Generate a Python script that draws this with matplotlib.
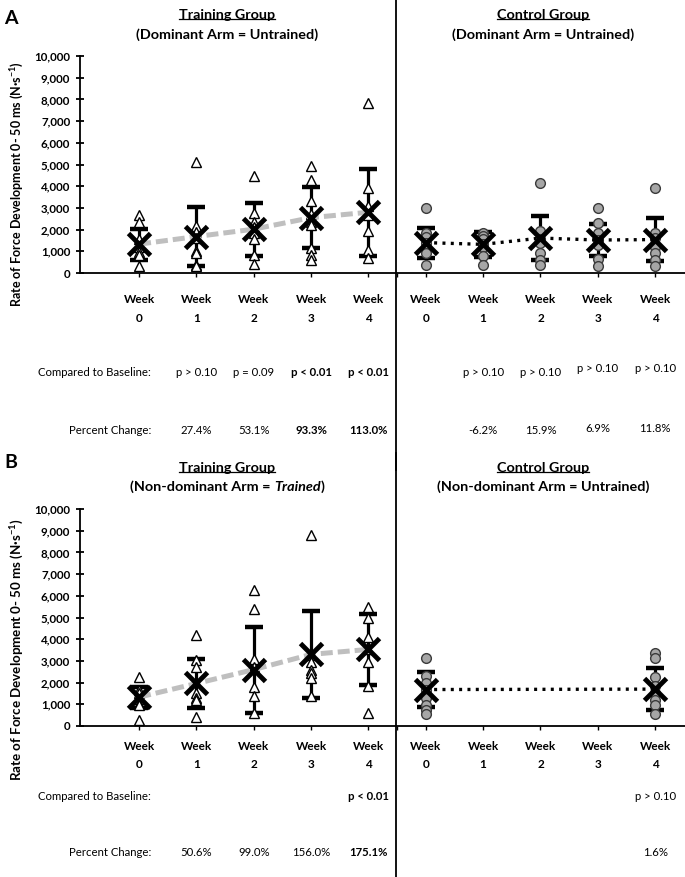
import matplotlib
matplotlib.use('Agg')
import matplotlib.pyplot as plt
import matplotlib.transforms as mtransforms
from matplotlib.lines import Line2D

W, H = 685, 877
plt.rcParams['font.family'] = ['Lato', 'DejaVu Sans']
plt.rcParams['mathtext.fontset'] = 'custom'
plt.rcParams['mathtext.rm'] = 'Lato'
plt.rcParams['mathtext.bf'] = 'Lato:bold'
plt.rcParams['mathtext.it'] = 'Lato:italic'

# ---------------- data (N·s^-1) ----------------
week_nums = ['0', '1', '2', '3', '4']
y_ticks = [0, 1000, 2000, 3000, 4000, 5000, 6000, 7000, 8000, 9000, 10000]

# Panel A – dominant arm (untrained)
a_train_points = [
    [2680, 2350, 1550, 1200, 950, 850, 300],
    [5100, 2150, 1900, 1600, 1000, 900, 350, 300],
    [4480, 2760, 2350, 2100, 1850, 1560, 840, 400],
    [4950, 4290, 3300, 2700, 2350, 2200, 1150, 840, 620],
    [7850, 3940, 3100, 2650, 1920, 1070, 690],
]
a_train_mean = [1330, 1680, 2020, 2550, 2800]
a_train_sd = [710, 1370, 1220, 1400, 2000]

a_ctrl_points = [
    [2990, 1850, 1650, 1400, 1150, 900, 350],
    [1850, 1720, 1550, 1350, 1200, 800, 350],
    [4140, 1920, 1560, 1400, 920, 600, 350],
    [2990, 2300, 1840, 1530, 1300, 640, 340],
    [3910, 1840, 1610, 1220, 920, 610, 340],
]
a_ctrl_mean = [1400, 1320, 1610, 1520, 1540]
a_ctrl_sd = [690, 580, 1030, 750, 1000]

a_train_p = ['', 'p > 0.10', 'p = 0.09', 'p < 0.01', 'p < 0.01']
a_train_p_bold = [False, False, False, True, True]
a_train_pct = ['', '27.4%', '53.1%', '93.3%', '113.0%']
a_train_pct_bold = [False, False, False, True, True]
a_ctrl_p = ['', 'p > 0.10', 'p > 0.10', 'p > 0.10', 'p > 0.10']
a_ctrl_pct = ['', '-6.2%', '15.9%', '6.9%', '11.8%']

# Panel B – non-dominant arm
b_train_points = [
    [2260, 1650, 1500, 1260, 1000, 950, 290],
    [4190, 3030, 2730, 1500, 1300, 1190, 420],
    [6270, 5380, 3110, 2700, 1800, 1370, 620],
    [8810, 3270, 2960, 2600, 2420, 2230, 1370],
    [5500, 4960, 4110, 3570, 2960, 1830, 600],
]
b_train_mean = [1330, 1960, 2600, 3300, 3530]
b_train_sd = [490, 1130, 1980, 2020, 1650]

b_ctrl_points = [
    [3140, 2300, 2000, 1680, 1300, 950, 750, 570],
    [], [], [],
    [3370, 3140, 2260, 1850, 1500, 1200, 950, 570],
]
b_ctrl_mean = [1680, None, None, None, 1700]
b_ctrl_sd = [810, None, None, None, 980]

b_train_p = ['', '', '', '', 'p < 0.01']
b_train_p_bold = [False, False, False, False, True]
b_train_pct = ['', '50.6%', '99.0%', '156.0%', '175.1%']
b_train_pct_bold = [False, False, False, False, True]
b_ctrl_p = ['', '', '', '', 'p > 0.10']
b_ctrl_pct = ['', '', '', '', '1.6%']

# ---------------- figure ----------------
fig = plt.figure(figsize=(W / 100, H / 100), dpi=100)


def fx(px):
    return px / W


def fy(py):
    return 1 - py / H


X_LEFT, X_RIGHT = -1.03, 9.52
train_x = [0, 1, 2, 3, 4]
ctrl_x = [5, 6, 7, 8, 9]


def make_axes(top_px, bottom_px):
    ax = fig.add_axes([fx(80), fy(bottom_px), fx(W - 80), (bottom_px - top_px) / H])
    ax.set_xlim(X_LEFT, X_RIGHT)
    ax.set_ylim(0, 10000)
    for s in ['top', 'right']:
        ax.spines[s].set_visible(False)
    for s in ['left', 'bottom']:
        ax.spines[s].set_linewidth(1.3)
        ax.spines[s].set_color('black')
    ax.set_yticks(y_ticks)
    ax.set_yticklabels([f'{v:,}' for v in y_ticks], fontweight='bold', fontsize=8.3)
    ax.set_xticks(train_x + ctrl_x + [4.5])
    ax.set_xticklabels([])
    ax.tick_params(axis='y', direction='inout', length=6, width=1.3, pad=4)
    ax.tick_params(axis='x', direction='out', length=3, width=1.0)
    ax.patch.set_alpha(0)
    return ax


def draw_group(ax, xs, points, means, sds, kind):
    for x, pts in zip(xs, points):
        if not pts:
            continue
        if kind == 'train':
            ax.plot([x] * len(pts), pts, linestyle='none', marker='^', ms=7,
                    mfc='white', mec='black', mew=1.0, zorder=3)
        else:
            ax.plot([x] * len(pts), pts, linestyle='none', marker='o', ms=7,
                    mfc='#a6a6a6', mec='#3a3a3a', mew=1.0, zorder=3)
    mx = [x for x, m in zip(xs, means) if m is not None]
    my = [m for m in means if m is not None]
    sy = [s for s in sds if s is not None]
    ax.errorbar(mx, my, yerr=sy, fmt='none', ecolor='black', elinewidth=2.3,
                capsize=6.5, capthick=3.2, zorder=2)
    if kind == 'train':
        ax.plot(mx, my, color='#bfbfbf', lw=3.6, dashes=(2.4, 1.0), zorder=4,
                solid_capstyle='butt', dash_capstyle='butt')
    else:
        ax.plot(mx, my, color='black', lw=2.4, dashes=(0.9, 1.6), zorder=4,
                dash_capstyle='butt')
    ax.plot(mx, my, linestyle='none', marker='x', ms=16, mew=3.5,
            color='black', zorder=5)


def week_labels(ax, y_week, y_num):
    tr = mtransforms.blended_transform_factory(ax.transData, fig.transFigure)
    for i, x in enumerate(train_x + ctrl_x):
        ax.text(x, fy(y_week), 'Week', transform=tr, ha='center', va='center',
                fontsize=8.5, fontweight='bold')
        ax.text(x, fy(y_num), week_nums[i % 5], transform=tr, ha='center',
                va='center', fontsize=8.5, fontweight='bold')


def stat_rows(ax, y_p, y_pct, tp, tpb, tpct, tpctb, cp, cpct, y_p_c, y_pct_c):
    tr = mtransforms.blended_transform_factory(ax.transData, fig.transFigure)
    fs = 8.2
    fig.text(fx(151), fy(y_p), 'Compared to Baseline:', ha='right', va='center', fontsize=fs)
    fig.text(fx(151), fy(y_pct), 'Percent Change:', ha='right', va='center', fontsize=fs)
    for i, x in enumerate(train_x):
        if tp[i]:
            ax.text(x, fy(y_p), tp[i], transform=tr, ha='center', va='center', fontsize=fs,
                    fontweight='bold' if tpb[i] else 'normal')
        if tpct[i]:
            ax.text(x, fy(y_pct), tpct[i], transform=tr, ha='center', va='center', fontsize=fs,
                    fontweight='bold' if tpctb[i] else 'normal')
    for i, x in enumerate(ctrl_x):
        if cp[i]:
            ax.text(x, fy(y_p_c[i]), cp[i], transform=tr, ha='center', va='center', fontsize=fs)
        if cpct[i]:
            ax.text(x, fy(y_pct_c[i]), cpct[i], transform=tr, ha='center', va='center', fontsize=fs)


# ---------- Panel A ----------
axA = make_axes(56, 273)
draw_group(axA, train_x, a_train_points, a_train_mean, a_train_sd, 'train')
draw_group(axA, ctrl_x, a_ctrl_points, a_ctrl_mean, a_ctrl_sd, 'ctrl')
week_labels(axA, 299, 318)
stat_rows(axA, 372, 431, a_train_p, a_train_p_bold, a_train_pct, a_train_pct_bold,
          a_ctrl_p, a_ctrl_pct, [372, 372, 372, 369, 369], [431, 431, 431, 428, 428])

# ---------- Panel B ----------
axB = make_axes(509, 726)
draw_group(axB, train_x, b_train_points, b_train_mean, b_train_sd, 'train')
draw_group(axB, ctrl_x, b_ctrl_points, b_ctrl_mean, b_ctrl_sd, 'ctrl')
week_labels(axB, 746, 765)
stat_rows(axB, 797, 853, b_train_p, b_train_p_bold, b_train_pct, b_train_pct_bold,
          b_ctrl_p, b_ctrl_pct, [797] * 5, [853] * 5)

# ---------- dividers ----------
fig.add_artist(Line2D([fx(396), fx(396)], [fy(0), fy(470)], transform=fig.transFigure,
                      color='black', lw=1.3))
fig.add_artist(Line2D([fx(396), fx(396)], [fy(453), fy(877)], transform=fig.transFigure,
                      color='black', lw=1.3))

# ---------- panel letters and y labels ----------
fig.text(fx(4), fy(19), 'A', fontsize=14, fontweight='bold', ha='left', va='center')
fig.text(fx(4), fy(462), 'B', fontsize=14, fontweight='bold', ha='left', va='center')
ylab = r'Rate of Force Development 0- 50 ms (N·s$^{\mathbf{-1}}$)'
fig.text(fx(17), fy(184), ylab, rotation=90, fontsize=9.0, fontweight='bold', ha='center', va='center')
fig.text(fx(17), fy(650), ylab, rotation=90, fontsize=9.6, fontweight='bold', ha='center', va='center')

# ---------- titles ----------
TS = 10.4
titles = []
titles.append(fig.text(fx(227), fy(15), 'Training Group', fontsize=TS, fontweight='bold', ha='center', va='center'))
fig.text(fx(227), fy(35), '(Dominant Arm = Untrained)', fontsize=TS, fontweight='bold', ha='center', va='center')
titles.append(fig.text(fx(543), fy(15), 'Control Group', fontsize=TS, fontweight='bold', ha='center', va='center'))
fig.text(fx(543), fy(35), '(Dominant Arm = Untrained)', fontsize=TS, fontweight='bold', ha='center', va='center')
titles.append(fig.text(fx(227), fy(468), 'Training Group', fontsize=TS, fontweight='bold', ha='center', va='center'))
titles.append(fig.text(fx(543), fy(468), 'Control Group', fontsize=TS, fontweight='bold', ha='center', va='center'))
fig.text(fx(543), fy(487), '(Non-dominant Arm = Untrained)', fontsize=TS, fontweight='bold', ha='center', va='center')

# mixed style subtitle
pieces = [('(Non-dominant Arm = ', 'normal'), ('Trained', 'italic'), (')', 'normal')]
ptexts = [fig.text(0, fy(487), s, fontsize=TS, fontweight='bold', style=st, ha='left', va='center')
          for s, st in pieces]

fig.canvas.draw()
renderer = fig.canvas.get_renderer()
tmp1 = fig.text(0, 0, '(Non-dominant Arm = T', fontsize=TS, fontweight='bold')
tmp2 = fig.text(0, 0, 'T', fontsize=TS, fontweight='bold')
w_first = tmp1.get_window_extent(renderer).width - tmp2.get_window_extent(renderer).width
tmp1.remove()
tmp2.remove()
widths = [w_first, ptexts[1].get_window_extent(renderer).width, ptexts[2].get_window_extent(renderer).width]
total = sum(widths)
x0 = 227 - total / 2
for t, w in zip(ptexts, widths):
    t.set_x(fx(x0))
    x0 += w

for t in titles:
    bb = t.get_window_extent(renderer)
    yline = bb.y0 + 2
    fig.add_artist(Line2D([bb.x0 / W, bb.x1 / W], [yline / H, yline / H],
                          transform=fig.transFigure, color='black', lw=0.9))

fig.savefig('out.png', dpi=100)
